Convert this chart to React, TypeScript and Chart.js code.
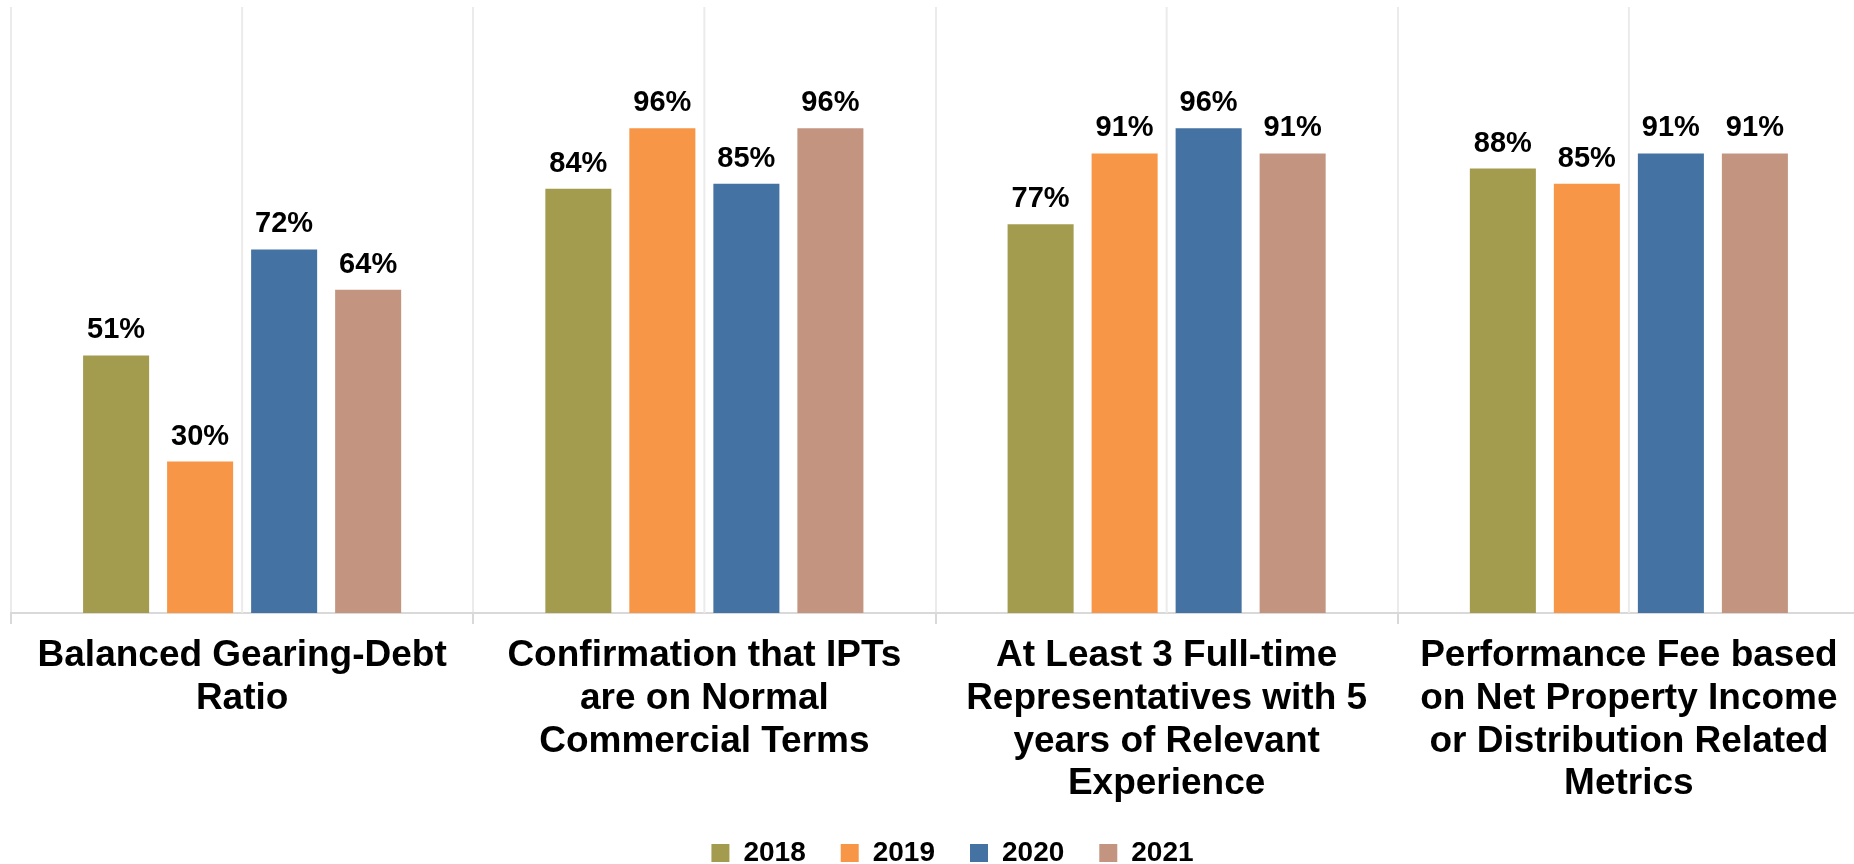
import React, { useEffect, useRef } from "react";
import { Chart, registerables } from "chart.js";

Chart.register(...registerables);

const categories: string[][] = [
  ["Balanced Gearing-Debt", "Ratio"],
  ["Confirmation that IPTs", "are on Normal", "Commercial Terms"],
  ["At Least 3 Full-time", "Representatives with 5", "years of Relevant", "Experience"],
  ["Performance Fee based", "on Net Property Income", "or Distribution Related", "Metrics"],
];
const seriesNames = ["2018", "2019", "2020", "2021"];
const values2018 = [51, 84, 77, 88];
const values2019 = [30, 96, 91, 85];
const values2020 = [72, 85, 96, 91];
const values2021 = [64, 96, 91, 91];
const seriesColors = ["#A39C4F", "#F79646", "#4472A3", "#C39581"];
const yMin = 0;
const yMax = 120;

const FONT = "'Liberation Sans', Arial, sans-serif";
const GRID_COLOR = "#EBEBEB";
const AXIS_COLOR = "#D9D9D9";
const W = 1905;
const H = 877;

const centerLines = {
  id: "centerLines",
  beforeDatasetsDraw(chart: any) {
    const { ctx, chartArea, scales } = chart;
    const x = scales.x;
    ctx.save();
    ctx.strokeStyle = GRID_COLOR;
    ctx.lineWidth = 2;
    x.ticks.forEach((_: any, i: number) => {
      const px = x.getPixelForValue(i);
      ctx.beginPath();
      ctx.moveTo(px, chartArea.top);
      ctx.lineTo(px, chartArea.bottom);
      ctx.stroke();
    });
    ctx.restore();
  },
};

const valueLabels = {
  id: "valueLabels",
  afterDatasetsDraw(chart: any) {
    const { ctx } = chart;
    ctx.save();
    ctx.font = `bold 29px ${FONT}`;
    ctx.fillStyle = "#000";
    ctx.textAlign = "center";
    ctx.textBaseline = "alphabetic";
    chart.data.datasets.forEach((ds: any, di: number) => {
      chart.getDatasetMeta(di).data.forEach((bar: any, i: number) => {
        ctx.fillText(`${ds.data[i]}%`, bar.x, bar.y - 17);
      });
    });
    ctx.restore();
  },
};

export default function App() {
  const canvasRef = useRef<HTMLCanvasElement | null>(null);

  useEffect(() => {
    if (!canvasRef.current) return;
    const allValues = [values2018, values2019, values2020, values2021];
    const chart = new Chart(canvasRef.current, {
      type: "bar",
      data: {
        labels: categories,
        datasets: seriesNames.map((name, i) => ({
          label: name,
          data: allValues[i],
          backgroundColor: seriesColors[i],
          borderWidth: 0,
          categoryPercentage: 0.727,
          barPercentage: 0.786,
        })),
      },
      options: {
        responsive: false,
        animation: false,
        events: [],
        layout: { padding: { top: 7, left: 0, right: 0, bottom: 0 } },
        plugins: {
          tooltip: { enabled: false },
          legend: {
            position: "bottom",
            labels: {
              boxWidth: 18,
              boxHeight: 18,
              padding: 35,
              color: "#000",
              font: { family: FONT, size: 28, weight: "bold" },
            },
          },
        },
        scales: {
          x: {
            offset: true,
            grid: {
              offset: true,
              color: GRID_COLOR,
              lineWidth: 2,
              tickColor: AXIS_COLOR,
              tickWidth: 2,
              tickLength: 11,
            },
            border: { color: AXIS_COLOR, width: 2 },
            ticks: {
              color: "#000",
              font: { family: FONT, size: 37, weight: "bold", lineHeight: 1.15 },
              padding: 11,
              maxRotation: 0,
              minRotation: 0,
              autoSkip: false,
            },
            afterFit: (s: any) => {
              s.height = 191;
            },
          },
          y: {
            min: yMin,
            max: yMax,
            display: true,
            grid: { display: false },
            border: { display: false },
            ticks: { display: false },
            afterFit: (s: any) => {
              s.width = 11;
            },
          },
          y2: {
            position: "right",
            min: yMin,
            max: yMax,
            display: true,
            grid: { display: false },
            border: { display: false },
            ticks: { display: false },
            afterFit: (s: any) => {
              s.width = 45;
            },
          },
        },
      },
      plugins: [centerLines, valueLabels],
    });
    return () => chart.destroy();
  }, []);

  return (
    <div style={{ position: "fixed", left: 0, top: 0, width: W, height: H, background: "#fff" }}>
      <canvas ref={canvasRef} width={W} height={H} style={{ display: "block" }} />
    </div>
  );
}
